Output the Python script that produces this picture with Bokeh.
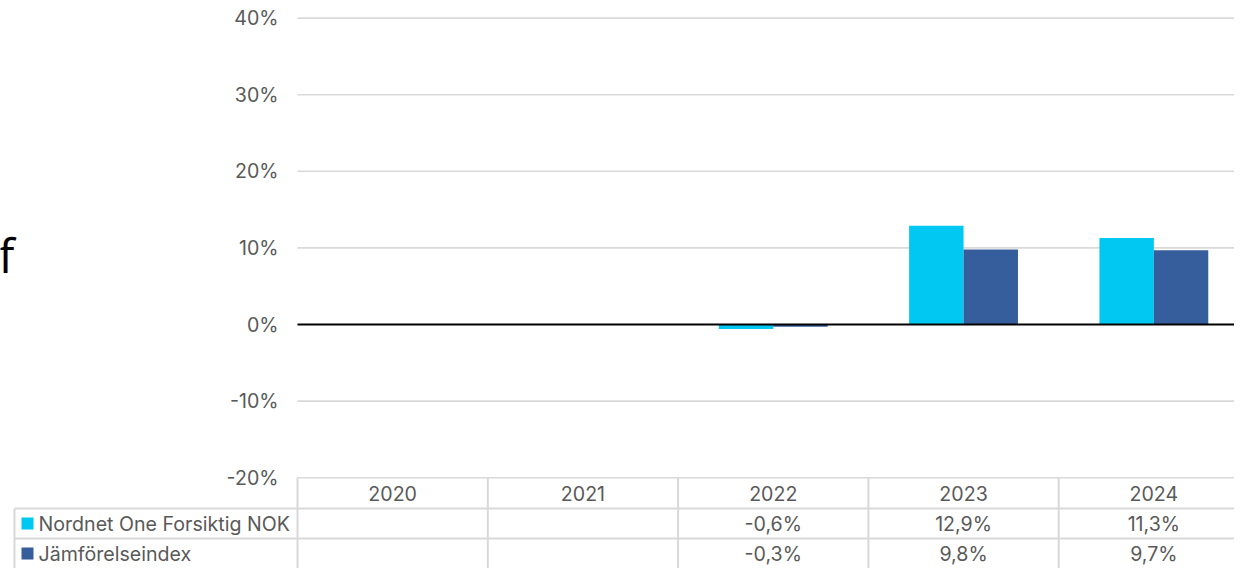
from bokeh.plotting import figure
from bokeh.models import Range1d
from bokeh.core.properties import value
from bokeh.embed import file_html
from bokeh.resources import INLINE

# ---------------- data ----------------
categories = ["2020", "2021", "2022", "2023", "2024"]
fund_values = [None, None, -0.6, 12.9, 11.3]
index_values = [None, None, -0.3, 9.8, 9.7]
series_names = ["Nordnet One Forsiktig NOK", "Jämförelseindex"]
series_colors = ["#00C8F2", "#365D9C"]
y_ticks = [-20, -10, 0, 10, 20, 30, 40]

# ---------------- layout constants ----------------
W, H = 1234, 568
PX_X = 190.3          # pixels per category
PX_Y = 7.66           # pixels per percent
LEFT = 297            # frame x of category 0
ZERO = 324            # frame y of 0 %
x0 = -LEFT / PX_X
x1 = (W - LEFT) / PX_X
y_top = ZERO / PX_Y
y_bot = -(H - ZERO) / PX_Y

def ydat(py):
    return (ZERO - py) / PX_Y

def xdat(px):
    return (px - LEFT) / PX_X

FONT = value("Inter")
GREY = "#595959"
LINE = "#d9d9d9"
FS = "19.6px"

p = figure(width=W, height=H, output_backend="svg", toolbar_location=None,
           x_range=Range1d(x0, x1), y_range=Range1d(y_bot, y_top),
           min_border=0, min_border_left=0, min_border_right=0,
           min_border_top=0, min_border_bottom=0)
p.xaxis.visible = False
p.yaxis.visible = False
p.grid.visible = False
p.outline_line_color = None
p.background_fill_color = "white"
p.border_fill_color = "white"

# gridlines
grid_y = [t for t in y_ticks if t != 0]
p.segment(x0=[0] * len(grid_y), x1=[x1] * len(grid_y), y0=grid_y, y1=grid_y,
          line_color=LINE, line_width=1.6)

# y tick labels
p.text(x=[xdat(278)] * len(y_ticks), y=y_ticks,
       text=[f"{t}%" for t in y_ticks], text_align="right", text_baseline="middle",
       text_font=FONT, text_font_size=FS, text_color=GREY)

# bars
bw = 0.286
for k, (vals, col) in enumerate(zip([fund_values, index_values], series_colors)):
    xs, tops = [], []
    for i, v in enumerate(vals):
        if v is not None:
            xs.append(i + 0.5 + (k - 0.5) * bw)
            tops.append(v)
    p.vbar(x=xs, top=tops, bottom=0, width=bw, fill_color=col, line_color=None)

# zero line
p.segment(x0=[0], x1=[x1], y0=[0], y1=[0], line_color="black", line_width=2)

# ---------------- data table ----------------
n = len(categories)
row_top = ydat(508)
row_mid = ydat(538)
lab_left = xdat(14)
p.segment(x0=[lab_left, lab_left], x1=[x1, x1], y0=[row_top, row_mid], y1=[row_top, row_mid],
          line_color=LINE, line_width=2)
vx = list(range(n + 1))
p.segment(x0=vx, x1=vx, y0=[-20] * len(vx), y1=[y_bot] * len(vx),
          line_color=LINE, line_width=2)
p.segment(x0=[lab_left], x1=[lab_left], y0=[row_top], y1=[y_bot],
          line_color=LINE, line_width=2)

cx = [i + 0.5 for i in range(n)]
p.text(x=cx, y=[ydat(493)] * n, text=categories, text_align="center",
       text_baseline="middle", text_font=FONT, text_font_size=FS, text_color=GREY)

def fmt(v):
    return "" if v is None else f"{v:.1f}%".replace(".", ",")

row_y = [ydat(523.5), ydat(553)]
for vals, ry in zip([fund_values, index_values], row_y):
    p.text(x=cx, y=[ry] * n, text=[fmt(v) for v in vals], text_align="center",
           text_baseline="middle", text_font=FONT, text_font_size=FS, text_color=GREY)

# legend keys in table
p.rect(x=[xdat(27)] * 2, y=[ydat(523), ydat(553)], width=12, height=12,
       width_units="screen", height_units="screen", fill_color=series_colors, line_color=None)
p.text(x=[xdat(38)] * 2, y=row_y, text=series_names, text_align="left",
       text_baseline="middle", text_font=FONT, text_font_size=FS, text_color=GREY)

# clipped title fragment at left edge
p.text(x=[xdat(-2)], y=[ydat(254)], text=["f"], text_align="left", text_baseline="middle",
       text_font=value("Open Sans"), text_font_size="47px", text_color="black")

open("out.html", "w").write(file_html(p, INLINE))
